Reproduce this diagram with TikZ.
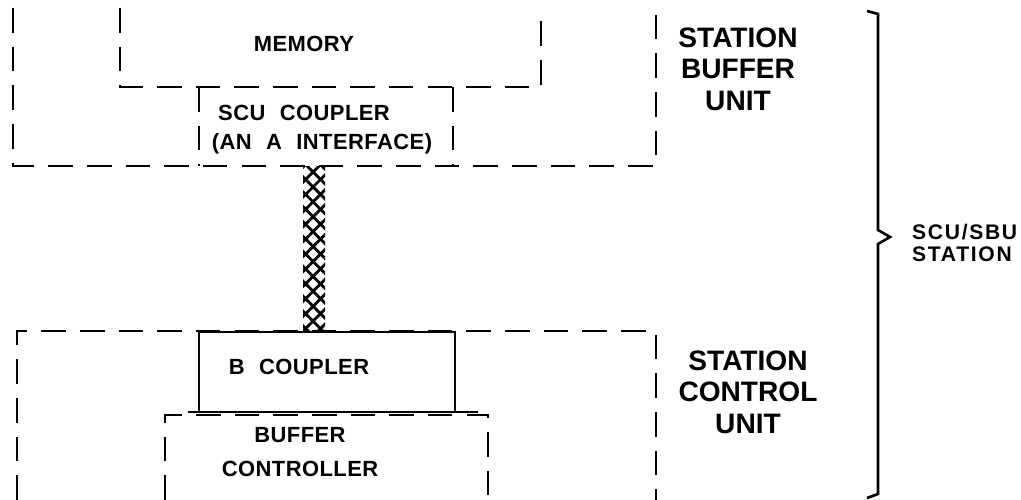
\documentclass[tikz,border=0pt]{standalone}
\usepackage{fontspec}
\setmainfont{Liberation Sans}
\newfontfamily\letterfont[LetterSpace=2, WordSpace=2.2]{Liberation Sans}
\newfontfamily\stationfont[LetterSpace=8]{Liberation Sans}
\usetikzlibrary{calc, patterns.meta}

\begin{document}
\begin{tikzpicture}[x=0.02cm, y=-0.02cm,
    unitline/.style={line width=1.5pt, dash pattern=on 14pt off 8pt},
    solidline/.style={line width=1.5pt},
    couplerbox/.style={draw, solidline, inner sep=0pt, minimum width=5.12cm, minimum height=1.6cm},
    partlabel/.style={font=\letterfont\bfseries\fontsize{12.5}{19.8}\selectfont, align=center},
    unitlabel/.style={font=\bfseries\fontsize{16}{18}\selectfont, align=center},
    stationlabel/.style={font=\stationfont\bfseries\fontsize{12}{12.5}\selectfont, align=left, anchor=west},
    cablehatch/.style={pattern={Lines[angle=#1, distance=6pt, line width=1.6pt]}}]
    \useasboundingbox (0,0) rectangle (1021,500);

    % --- station buffer unit ---
    \draw[unitline] (13,8) -- (13,166) -- (656,166) -- (656,8);
    \draw[unitline] (120,8) -- (120,87) -- (541,87) -- (541,8);
    \draw[unitline] (199,87) -- (199,166);
    \draw[unitline] (453,87) -- (453,166);
    \node[partlabel] (memory) at (304,44) {MEMORY};
    \node[partlabel] (sculine) at (304,113) {SCU COUPLER};
    \node[partlabel] (ifaceline) at (322,144) {(AN A INTERFACE)};
    \node[unitlabel] (sbu) at (738,69) {STATION\\BUFFER\\UNIT};

    % --- station control unit ---
    \draw[unitline] (17,500) -- (17,331) -- (656,331) -- (656,500);
    \draw[unitline] (165,500) -- (165,415) -- (488,415) -- (488,500);
    \node[couplerbox] (bcoupler) at (327,372) {};
    \draw[solidline] (188,412) -- (478,412);
    \node[partlabel] (bcouplertext) at (299,367) {B COUPLER};
    \node[partlabel] (buffer) at (300,452) {BUFFER\\CONTROLLER};
    \node[unitlabel] (scu) at (748,392) {STATION\\CONTROL\\UNIT};

    % --- cable between couplers ---
    \coordinate (cabletop) at (314,166);
    \fill[cablehatch=45] ($(cabletop)+(-11,0)$) rectangle ($(cabletop|-bcoupler.north)+(11,0)$);
    \fill[cablehatch=-45] ($(cabletop)+(-11,0)$) rectangle ($(cabletop|-bcoupler.north)+(11,0)$);

    % --- brace ---
    \draw[solidline] (867,11) -- (878,14) -- (878,230) -- (890,237)
        -- (878,244) -- (878,494) -- (867,498);
    \node[stationlabel] (station) at (906,243) {SCU/SBU\\STATION};
\end{tikzpicture}
\end{document}
